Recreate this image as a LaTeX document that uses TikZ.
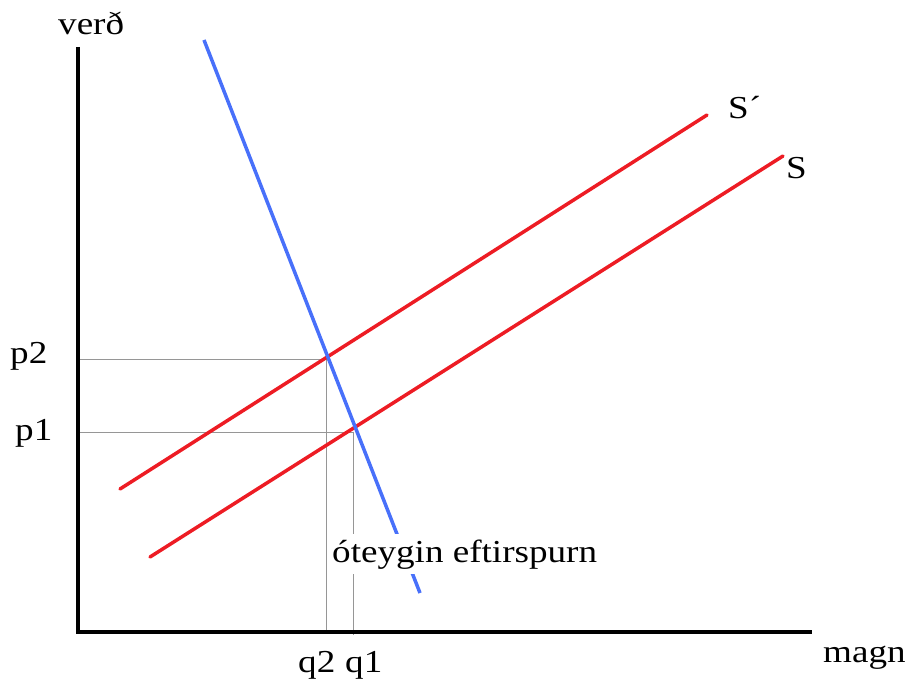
\documentclass[tikz,border=0pt]{standalone}
\usepackage{fontspec}
\setmainfont[FakeStretch=1.16]{Liberation Serif}
\definecolor{supplyred}{RGB}{237,28,36}
\definecolor{demandblue}{RGB}{72,112,250}
\definecolor{guidegray}{RGB}{150,150,150}

\begin{document}
\begin{tikzpicture}[x=1pt,y=-1pt,
		every node/.style={inner sep=0pt, anchor=base west, font=\fontsize{32}{38}\selectfont},
		axisline/.style={line width=4pt},
		guideline/.style={color=guidegray, line width=1pt},
		supplyline/.style={color=supplyred, line width=3.5pt, line cap=round},
		demandline/.style={color=demandblue, line width=3.5pt}]
		\useasboundingbox (0,0) rectangle (907,682);
		
		\draw[guideline] (80,359) -- (327,359);  % p2 
		\draw[guideline] (80,432) -- (354,432);  % p1 
		\draw[guideline] (326,359) -- (326,632);  % q2 
		\draw[guideline] (353,432) -- (353,635);  % q1 
		
		\draw[supplyline] (120,489) -- (707,115);  % S' 
		\draw[supplyline] (150,557) -- (783,156);  % S 
		\draw[demandline] (204,40) -- (420,593);  % D 
		
		\node[fill=white, inner xsep=2pt, inner ysep=5pt] (demand) at (330,562) {óteygin eftirspurn}; 
		
		\draw[axisline] (78,47) -- (78,632) -- (812,632);  % axes 
		
		\node (verd) at (58,35) {verð}; 
		\node (magn) at (823,662) {magn}; 
		\node (p2) at (10,363) {p2}; 
		\node (p1) at (15,440) {p1}; 
		\node (q2) at (298,672) {q2}; 
		\node (q1) at (345,672) {q1}; 
		\node (Sprime) at (728,118) {S´}; 
		\node (S) at (786,178) {S}; 
		
	\end{tikzpicture}
\end{document}
